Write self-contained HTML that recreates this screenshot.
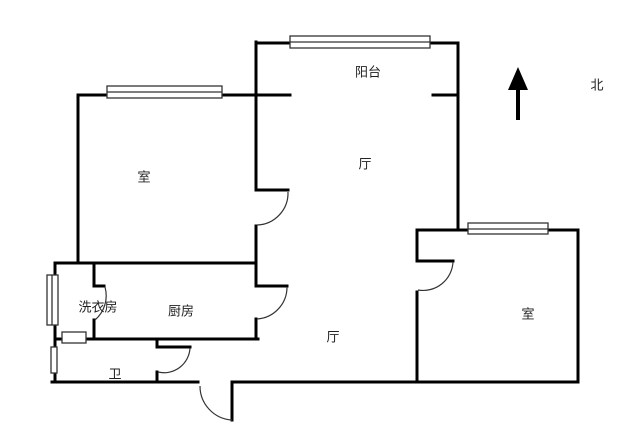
<!DOCTYPE html>
<html><head><meta charset="utf-8"><style>
html,body{margin:0;padding:0;background:#fff;width:625px;height:444px;overflow:hidden}
svg{display:block}
text{font-family:"Liberation Sans","Noto Sans CJK SC",sans-serif;font-size:13px;fill:#222;text-anchor:middle;dominant-baseline:middle}
</style></head><body>
<svg width="625" height="444" viewBox="0 0 625 444">
<g stroke="#000" stroke-width="3" fill="none" stroke-linecap="square">
<!-- top-left room -->
<polyline points="78,263 78,95 290,95"/>
<polyline points="256,42 256,190 288,190"/>
<line x1="256" y1="226" x2="256" y2="263"/>
<!-- balcony -->
<polyline points="256,43 458,43 458,230"/>
<line x1="433" y1="95" x2="458" y2="95"/>
<!-- right room -->
<polyline points="417,261 417,230 578,230 578,382 417,382"/>
<line x1="417" y1="261" x2="453" y2="261"/>
<line x1="417" y1="292" x2="417" y2="382"/>
<!-- bottom -->
<line x1="232" y1="382" x2="578" y2="382"/>
<line x1="52" y1="382" x2="198" y2="382"/>
<line x1="232" y1="382" x2="232" y2="420"/>
<!-- kitchen -->
<line x1="55" y1="263" x2="256" y2="263"/>
<line x1="55" y1="339" x2="258" y2="339"/>
<polyline points="256,263 256,286 287,286"/>
<line x1="256" y1="319" x2="256" y2="339"/>
<polyline points="94,265 94,286 104,286"/>
<line x1="94" y1="320" x2="94" y2="339"/>
<line x1="55" y1="263" x2="55" y2="382"/>
<!-- bath door -->
<polyline points="157,382 157,372"/>
<polyline points="157,341 157,347 190,347"/>
</g>
<g stroke="#333" stroke-width="1.2" fill="none">
<path d="M288,192 A32,32 0 0 1 257,225"/>
<path d="M453,262 A30,30 0 0 1 418,290"/>
<path d="M287,287 A32,32 0 0 1 257,319"/>
<path d="M105,287 A32,32 0 0 1 95,320"/>
<path d="M190,348 A26,26 0 0 1 158,372"/>
<path d="M200,386 A34,34 0 0 0 232,420"/>
</g>
<g stroke="#333" stroke-width="1.3" fill="#fff">
<rect x="107" y="86" width="115" height="12"/><line x1="107" y1="92" x2="222" y2="92"/>
<rect x="290" y="36" width="140" height="12"/><line x1="290" y1="42" x2="430" y2="42"/>
<rect x="468" y="223" width="80" height="11"/><line x1="468" y1="229" x2="548" y2="229"/>
<rect x="47" y="275" width="11" height="50"/><line x1="52" y1="275" x2="52" y2="325"/>
<rect x="62" y="332" width="24" height="11"/>
<rect x="51" y="347" width="6" height="26"/>
</g>
<line x1="518" y1="120" x2="518" y2="85" stroke="#000" stroke-width="4"/>
<polygon points="518,67 508,90 528,90" fill="#000"/>
<text x="368" y="73">阳台</text>
<text x="365" y="165">厅</text>
<text x="144" y="178">室</text>
<text x="528" y="315">室</text>
<text x="333" y="338">厅</text>
<text x="98" y="308">洗衣房</text>
<text x="181" y="312">厨房</text>
<text x="115" y="375">卫</text>
<text x="597" y="86">北</text>
</svg>
</body></html>
